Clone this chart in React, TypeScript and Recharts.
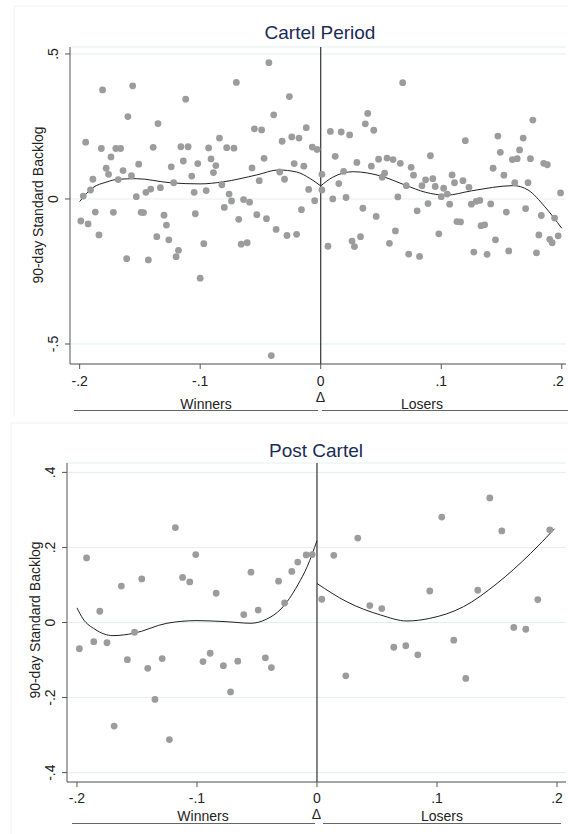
import React from 'react';
import { ComposedChart, Scatter, Line, XAxis, YAxis, CartesianGrid, ReferenceLine } from 'recharts';

const FONT = '"Liberation Sans", Arial, Helvetica, sans-serif';
const DOT = '#9c9c9c';
const AXIS = '#555';
const TITLE = '#1c2b57';

// shared x axis
const xTicks = [-0.2, -0.1, 0, 0.1, 0.2];
const xTickLabels = ['-.2', '-.1', '0', '.1', '.2'];

// ---- Cartel Period ----
const cartelYTicks = [-0.5, 0, 0.5];
const cartelYTickLabels = ['-.5', '0', '.5'];

const cartelWinners = [
  [-0.181, 0.376], [-0.156, 0.39], [-0.112, 0.344], [-0.16, 0.284], [-0.135, 0.26], [-0.195, 0.196],
  [-0.182, 0.174], [-0.17, 0.174], [-0.166, 0.174], [-0.139, 0.178], [-0.116, 0.18], [-0.11, 0.18],
  [-0.174, 0.145], [-0.151, 0.12], [-0.114, 0.131], [-0.124, 0.111], [-0.178, 0.106], [-0.164, 0.098],
  [-0.176, 0.085], [-0.157, 0.08], [-0.189, 0.068], [-0.168, 0.067], [-0.107, 0.079], [-0.102, 0.122],
  [-0.122, 0.056], [-0.191, 0.031], [-0.197, 0.01], [-0.133, 0.039], [-0.141, 0.034], [-0.145, 0.023],
  [-0.153, 0.008], [-0.105, 0.023], [-0.199, -0.076], [-0.193, -0.086], [-0.187, -0.045], [-0.172, -0.046],
  [-0.149, -0.046], [-0.147, -0.047], [-0.13, -0.056], [-0.104, -0.051], [-0.128, -0.09], [-0.184, -0.124],
  [-0.136, -0.13], [-0.126, -0.141], [-0.118, -0.177], [-0.12, -0.199], [-0.161, -0.206], [-0.143, -0.21],
  [-0.1, -0.273],
  [-0.043, 0.47], [-0.07, 0.402], [-0.026, 0.353], [-0.039, 0.29], [-0.055, 0.242], [-0.049, 0.238],
  [-0.012, 0.246], [-0.084, 0.21], [-0.032, 0.199], [-0.024, 0.214], [-0.018, 0.21], [-0.093, 0.176],
  [-0.078, 0.177], [-0.072, 0.175], [-0.007, 0.179], [-0.003, 0.171], [-0.091, 0.138], [-0.087, 0.115],
  [-0.047, 0.14], [-0.057, 0.107], [-0.022, 0.122], [-0.014, 0.113], [-0.089, 0.091], [-0.034, 0.093],
  [-0.03, 0.068], [-0.051, 0.063], [-0.082, 0.049], [-0.095, 0.029], [-0.076, 0.017], [-0.074, -0.007],
  [-0.064, -0.002], [-0.059, -0.011], [-0.01, 0.033], [-0.005, -0.006], [-0.08, -0.029], [-0.016, -0.037],
  [-0.053, -0.054], [-0.045, -0.068], [-0.068, -0.07], [-0.037, -0.105], [-0.028, -0.126], [-0.02, -0.122],
  [-0.097, -0.154], [-0.066, -0.156], [-0.061, -0.151], [-0.041, -0.54],
];

const cartelLosers = [
  [0.001, 0.085], [0.068, 0.401], [0.039, 0.295], [0.037, 0.259], [0.044, 0.237], [0.008, 0.233],
  [0.017, 0.231], [0.024, 0.221], [0.012, 0.147], [0.03, 0.126], [0.048, 0.137], [0.055, 0.141],
  [0.06, 0.136], [0.066, 0.123], [0.075, 0.109], [0.091, 0.149], [0.042, 0.113], [0.019, 0.095],
  [0.053, 0.089], [0.051, 0.075], [0.077, 0.082], [0.087, 0.066], [0.093, 0.07], [0.015, 0.053],
  [0.071, 0.046], [0.084, 0.046], [0.095, 0.043], [0.001, 0.031], [0.01, 0.0], [0.021, 0.005],
  [0.064, 0.007], [0.1, 0.008], [0.035, -0.032], [0.089, -0.016], [0.08, -0.041], [0.046, -0.06],
  [0.062, -0.11], [0.098, -0.12], [0.057, -0.153], [0.026, -0.145], [0.033, -0.13], [0.028, -0.164],
  [0.006, -0.163], [0.073, -0.19], [0.082, -0.198],
  [0.176, 0.272], [0.12, 0.201], [0.147, 0.217], [0.168, 0.21], [0.149, 0.161], [0.165, 0.169],
  [0.159, 0.136], [0.163, 0.139], [0.174, 0.139], [0.185, 0.123], [0.188, 0.118], [0.143, 0.106],
  [0.152, 0.082], [0.109, 0.083], [0.111, 0.056], [0.118, 0.063], [0.123, 0.04], [0.161, 0.056],
  [0.172, 0.056], [0.102, 0.037], [0.105, 0.017], [0.199, 0.021], [0.107, -0.018], [0.125, -0.018],
  [0.129, -0.008], [0.132, -0.005], [0.141, -0.017], [0.154, -0.045], [0.17, -0.033], [0.183, -0.057],
  [0.194, -0.066], [0.113, -0.078], [0.116, -0.079], [0.133, -0.092], [0.136, -0.089], [0.181, -0.124],
  [0.19, -0.139], [0.192, -0.151], [0.197, -0.127], [0.145, -0.141], [0.127, -0.183], [0.138, -0.191],
  [0.156, -0.179], [0.179, -0.186],
];

const cartelFitLeft = [
  [-0.2, -0.009], [-0.189, 0.039], [-0.178, 0.058], [-0.168, 0.068], [-0.153, 0.07], [-0.125, 0.056],
  [-0.1, 0.052], [-0.081, 0.059], [-0.053, 0.083], [-0.035, 0.1], [-0.02, 0.093], [-0.009, 0.071], [0, 0.045],
];
const cartelFitRight = [
  [0, 0.045], [0.01, 0.075], [0.027, 0.094], [0.05, 0.079], [0.07, 0.048], [0.087, 0.023], [0.104, 0.013],
  [0.125, 0.028], [0.16, 0.046], [0.172, 0.031], [0.186, -0.027], [0.2, -0.101],
];

// ---- Post Cartel ----
const postYTicks = [-0.4, -0.2, 0, 0.2, 0.4];
const postYTickLabels = ['-.4', '-.2', '0', '.2', '.4'];

const postWinners = [
  [-0.192, 0.172], [-0.181, 0.03], [-0.163, 0.097], [-0.146, 0.116], [-0.118, 0.253], [-0.112, 0.12],
  [-0.106, 0.108], [-0.101, 0.181], [-0.084, 0.078], [-0.061, 0.021], [-0.055, 0.134], [-0.049, 0.033],
  [-0.032, 0.11], [-0.027, 0.052], [-0.021, 0.136], [-0.016, 0.161], [-0.009, 0.18], [-0.004, 0.181],
  [-0.198, -0.07], [-0.186, -0.051], [-0.175, -0.054], [-0.152, -0.026], [-0.169, -0.276], [-0.158, -0.099],
  [-0.141, -0.122], [-0.129, -0.096], [-0.135, -0.205], [-0.123, -0.312], [-0.095, -0.104], [-0.089, -0.082],
  [-0.078, -0.115], [-0.072, -0.185], [-0.066, -0.103], [-0.043, -0.094], [-0.038, -0.12],
];
const postLosers = [
  [0.004, 0.062], [0.014, 0.179], [0.034, 0.225], [0.044, 0.045], [0.054, 0.037], [0.094, 0.084],
  [0.104, 0.281], [0.134, 0.086], [0.144, 0.332], [0.154, 0.244], [0.184, 0.061], [0.194, 0.247],
  [0.164, -0.013], [0.174, -0.018], [0.024, -0.142], [0.064, -0.066], [0.074, -0.062], [0.084, -0.086],
  [0.114, -0.047], [0.124, -0.149],
];
const postFitLeft = [
  [-0.2, 0.039], [-0.195, 0.01], [-0.185, -0.018], [-0.17, -0.035], [-0.153, -0.029], [-0.125, -0.002],
  [-0.1, 0.005], [-0.075, 0.002], [-0.055, -0.002], [-0.042, 0.009], [-0.03, 0.036], [-0.016, 0.1],
  [-0.008, 0.15], [0, 0.218],
];
const postFitRight = [
  [0, 0.104], [0.025, 0.055], [0.053, 0.02], [0.075, 0.004], [0.094, 0.011], [0.122, 0.042], [0.15, 0.104],
  [0.178, 0.184], [0.198, 0.25],
];

const toPts = (arr: number[][]) => arr.map(([x, y]) => ({ x, y }));

const Dot = (props: any) => <circle cx={props.cx} cy={props.cy} r={3.4} fill={DOT} />;

const makeXTick = (dy: number) => (props: any) => {
  const { x, y, payload } = props;
  const i = xTicks.indexOf(payload.value);
  return (
    <text x={x} y={y + dy} textAnchor="middle" fontSize={14} fill="#222" fontFamily={FONT}>
      {xTickLabels[i]}
    </text>
  );
};

const makeYTick = (ticks: number[], labels: string[]) => (props: any) => {
  const { x, y, payload } = props;
  const i = ticks.indexOf(payload.value);
  const tx = x - 5;
  return (
    <text x={tx} y={y} transform={`rotate(-90 ${tx} ${y})`} textAnchor="middle" fontSize={14} fill="#222" fontFamily={FONT}>
      {labels[i]}
    </text>
  );
};

interface PanelProps {
  top: number;
  height: number;
  marginTop: number;
  xAxisHeight: number;
  yAxisWidth: number;
  xDomain: [number, number];
  yDomain: [number, number];
  yTicks: number[];
  yTickLabels: string[];
  winners: number[][];
  losers: number[][];
  fitLeft: number[][];
  fitRight: number[][];
  xTickDy: number;
}

const Panel = (p: PanelProps) => (
  <div style={{ position: 'absolute', left: 0, top: p.top }}>
    <ComposedChart width={568} height={p.height} margin={{ top: p.marginTop, right: 2, bottom: 0, left: 0 }}>
      <CartesianGrid vertical={false} stroke="#e4eef0" />
      <XAxis
        type="number"
        dataKey="x"
        domain={p.xDomain}
        ticks={xTicks}
        allowDataOverflow
        height={p.xAxisHeight}
        stroke={AXIS}
        tickSize={5}
        tick={makeXTick(p.xTickDy)}
      />
      <YAxis
        type="number"
        dataKey="y"
        domain={p.yDomain}
        ticks={p.yTicks}
        allowDataOverflow
        width={p.yAxisWidth}
        stroke={AXIS}
        tickSize={5}
        tick={makeYTick(p.yTicks, p.yTickLabels)}
      />
      <ReferenceLine x={0} stroke="#333" strokeWidth={1.2} />
      <Scatter data={toPts(p.winners)} shape={Dot} isAnimationActive={false} />
      <Scatter data={toPts(p.losers)} shape={Dot} isAnimationActive={false} />
      <Line data={toPts(p.fitLeft)} dataKey="y" type="monotoneX" stroke="#222" strokeWidth={1} dot={false} activeDot={false} isAnimationActive={false} />
      <Line data={toPts(p.fitRight)} dataKey="y" type="monotoneX" stroke="#222" strokeWidth={1} dot={false} activeDot={false} isAnimationActive={false} />
    </ComposedChart>
  </div>
);

const Annotations = () => (
  <svg width={568} height={834} style={{ position: 'absolute', left: 0, top: 0, pointerEvents: 'none' }} fontFamily={FONT}>
    {/* faint panel frames */}
    <line x1={14} y1={6} x2={568} y2={6} stroke="#f1f1f1" />
    <line x1={14} y1={6} x2={14} y2={416} stroke="#f1f1f1" />
    <line x1={11} y1={423} x2={568} y2={423} stroke="#f1f1f1" />
    <line x1={11} y1={423} x2={11} y2={834} stroke="#f1f1f1" />

    {/* top panel */}
    <text x={320} y={39} textAnchor="middle" fontSize={19} fill={TITLE}>Cartel Period</text>
    <text x={43} y={205} transform="rotate(-90 43 205)" textAnchor="middle" fontSize={14} fill="#222">90-day Standard Backlog</text>
    <text x={320.5} y={402} textAnchor="middle" fontSize={14} fill="#222">Δ</text>
    <text x={206} y={409} textAnchor="middle" fontSize={14} fill="#222">Winners</text>
    <text x={422} y={409} textAnchor="middle" fontSize={14} fill="#222">Losers</text>
    <line x1={74} y1={410.5} x2={318} y2={410.5} stroke="#666" />
    <line x1={322} y1={410.5} x2={568} y2={410.5} stroke="#666" />

    {/* bottom panel */}
    <text x={316} y={457} textAnchor="middle" fontSize={19} fill={TITLE}>Post Cartel</text>
    <text x={40} y={620} transform="rotate(-90 40 620)" textAnchor="middle" fontSize={14} fill="#222">90-day Standard Backlog</text>
    <text x={316.5} y={819} textAnchor="middle" fontSize={14} fill="#222">Δ</text>
    <text x={203} y={821} textAnchor="middle" fontSize={14} fill="#222">Winners</text>
    <text x={442} y={821} textAnchor="middle" fontSize={14} fill="#222">Losers</text>
    <line x1={72} y1={823.5} x2={315} y2={823.5} stroke="#666" />
    <line x1={323} y1={823.5} x2={561} y2={823.5} stroke="#666" />
  </svg>
);

export default function App() {
  return (
    <div style={{ position: 'absolute', left: 0, top: 0, width: 568, height: 834, background: '#fff', fontFamily: FONT }}>
      <Panel
        top={0}
        height={420}
        marginTop={47}
        xAxisHeight={56}
        yAxisWidth={70}
        xDomain={[-0.208, 0.2035]}
        yDomain={[-0.569, 0.524]}
        yTicks={cartelYTicks}
        yTickLabels={cartelYTickLabels}
        winners={cartelWinners}
        losers={cartelLosers}
        fitLeft={cartelFitLeft}
        fitRight={cartelFitRight}
        xTickDy={15}
      />
      <Panel
        top={420}
        height={414}
        marginTop={43}
        xAxisHeight={52}
        yAxisWidth={67}
        xDomain={[-0.2083, 0.2075]}
        yDomain={[-0.425, 0.425]}
        yTicks={postYTicks}
        yTickLabels={postYTickLabels}
        winners={postWinners}
        losers={postLosers}
        fitLeft={postFitLeft}
        fitRight={postFitRight}
        xTickDy={14}
      />
      <Annotations />
    </div>
  );
}
